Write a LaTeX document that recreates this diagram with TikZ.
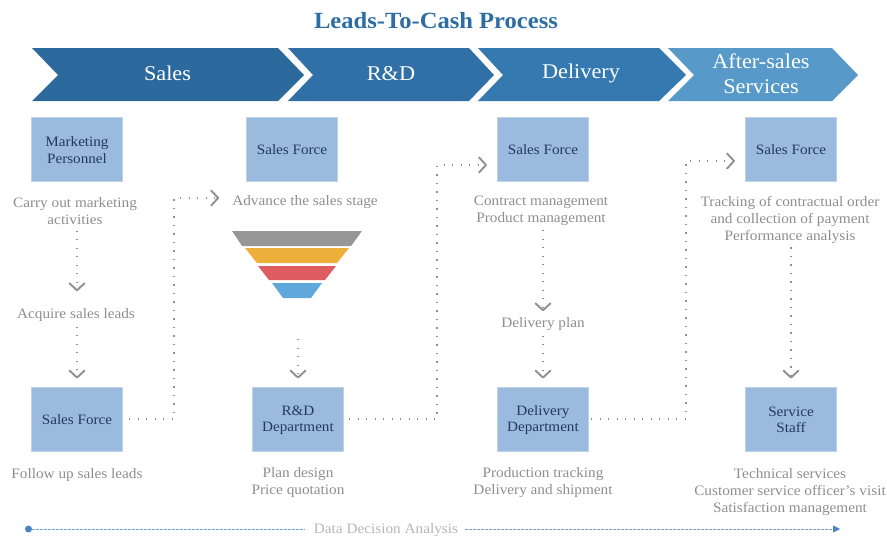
\documentclass[tikz,border=0pt]{standalone}
\usepackage{fontspec}
\setmainfont[FakeStretch=1.06]{Liberation Serif}
\usetikzlibrary{arrows.meta,calc}
\definecolor{boxfill}{HTML}{9ABBDD}
\definecolor{boxline}{HTML}{BDD3EA}
\definecolor{boxtext}{HTML}{26395F}
\definecolor{graytext}{HTML}{8E8E8E}
\definecolor{connc}{HTML}{8F8F8F}
\definecolor{titlec}{HTML}{2E6DA4}
\definecolor{dashc}{HTML}{6F9FD0}
\definecolor{dotc}{HTML}{4A86C5}
\definecolor{chA}{HTML}{2C6A9E}
\definecolor{chB}{HTML}{3070A6}
\definecolor{chC}{HTML}{347AB1}
\definecolor{chD}{HTML}{5799C8}
\definecolor{fnA}{HTML}{979797}
\definecolor{fnB}{HTML}{EDAE3A}
\definecolor{fnC}{HTML}{DC5C60}
\definecolor{fnD}{HTML}{5FA8DC}
\newcommand{\bs}{\rule[-1.4pt]{0pt}{13.4pt}}
\tikzset{
  chev/.style={fill=#1,draw=none},
  chevtext/.style={text=white,font=\fontsize{21}{25}\selectfont,align=center,inner sep=0pt},
  procbox/.style={draw=boxline,line width=1pt,fill=boxfill,minimum width=91pt,minimum height=64pt,inner sep=0pt,
    text=boxtext,font=\fontsize{14.3}{16.5}\selectfont,align=center},
  note/.style={text=graytext,font=\fontsize{14.4}{17}\selectfont,align=center,inner sep=0pt},
  conn/.style={draw=connc,line width=1.1pt,dash pattern=on 1.2pt off 7.3pt,
    -{Straight Barb[length=7pt,width=15pt,line width=1.9pt,round]}},
  funnel/.style={fill=#1,draw=none},
}
\begin{document}
\begin{tikzpicture}[x=1pt,y=-1pt]
\useasboundingbox (0,0) rectangle (887,538);
\node[text=titlec,font=\fontsize{23.2}{28}\selectfont\bfseries,inner sep=0pt] (title) at (436,20.5) {Leads-To-Cash Process};
% chevrons
\fill[chev=chA] (32,48) -- (278,48) -- (304,75) -- (278,101) -- (32,101) -- (58,75) -- cycle;
\fill[chev=chB] (288,48) -- (469,48) -- (494,75) -- (469,101) -- (288,101) -- (313,75) -- cycle;
\fill[chev=chC] (478,48) -- (659,48) -- (686,75) -- (659,101) -- (478,101) -- (503,75) -- cycle;
\fill[chev=chD] (668,48) -- (832,48) -- (858,75) -- (832,101) -- (668,101) -- (694,75) -- cycle;
\node[chevtext] (h1) at (167.5,73.5) {Sales};
\node[chevtext] (h2) at (391,73.5) {R\&D};
\node[chevtext] (h3) at (581,73.5) {Delivery};
\node[chevtext] (h4) at (761,74) {After-sales\\Services};
% boxes
\node[procbox] (s1) at (77,149.5) {\bs Marketing\\\bs Personnel};
\node[procbox] (s2) at (292,149.5) {\bs Sales Force};
\node[procbox] (s3) at (543,149.5) {\bs Sales Force};
\node[procbox] (s4) at (791,149.5) {\bs Sales Force};
\node[procbox] (b1) at (77,419) {\bs Sales Force};
\node[procbox] (b2) at (298,419) {\bs R\&D\\\bs Department};
\node[procbox] (b3) at (543,419) {\bs Delivery\\\bs Department};
\node[procbox] (b4) at (791,419) {\bs Service\\\bs Staff};
% notes
\node[note] (t1) at (75,211) {Carry out marketing\\activities};
\node[note] (t1b) at (76,315) {Acquire sales leads};
\node[note] (t2) at (305,202) {Advance the sales stage};
\node[note] (t3) at (541,211) {Contract management\\Product management};
\node[note] (t3b) at (543,324) {Delivery plan};
\node[note] (t4) at (790,219.5) {Tracking of contractual order\\and collection of payment\\Performance analysis};
\node[note] (n1) at (77,475) {Follow up sales leads};
\node[note] (n2) at (298,483) {Plan design\\Price quotation};
\node[note] (n3) at (543,483) {Production tracking\\Delivery and shipment};
\node[note] (n4) at (790,492) {Technical services\\Customer service officer's visit\\Satisfaction management};
% funnel
\fill[funnel=fnA] (232,231) -- (362,231) -- (351,246) -- (242,246) -- cycle;
\fill[funnel=fnB] (245,248) -- (349,248) -- (337,263) -- (257,263) -- cycle;
\fill[funnel=fnC] (258,266) -- (336,266) -- (325,280) -- (269,280) -- cycle;
\fill[funnel=fnD] (272,283) -- (322,283) -- (311,298) -- (283,298) -- cycle;
\coordinate (fn) at (298,339);
% vertical connectors
\draw[conn,shorten <=6pt,shorten >=17pt] (t1.south -| s1.south) -- (t1b.north -| s1.south);
\draw[conn,shorten <=5pt,shorten >=8pt] (t1b.south -| b1.north) -- (b1.north);
\draw[conn,shorten >=8pt] (fn) -- (b2.north);
\draw[conn,shorten <=4pt,shorten >=6pt] (t3.south -| s3.south) -- (t3b.north -| s3.south);
\draw[conn,shorten <=5pt,shorten >=8pt] (t3b.south -| b3.north) -- (b3.north);
\draw[conn,shorten <=4pt,shorten >=8pt] (t4.south -| b4.north) -- (b4.north);
% elbow connectors
\coordinate (c1) at (174,198);
\coordinate (c2) at (437,165);
\coordinate (c3) at (686,161);
\draw[conn,shorten <=6pt,shorten >=13pt] (b1.east) -| (c1) -- (c1 -| t2.west);
\draw[conn,shorten <=5pt,shorten >=10pt] (b2.east) -| (c2) -- (c2 -| s3.west);
\draw[conn,shorten <=2pt,shorten >=10pt] (b3.east) -| (c3) -- (c3 -| s4.west);
% bottom
\node[circle,fill=dotc,minimum size=7pt,inner sep=0pt] (d) at (28.5,529) {};
\node[text=graytext!65,font=\fontsize{14.4}{17}\selectfont,inner sep=0pt] (dl) at (386,530.5) {Data Decision Analysis};
\coordinate (de) at (840,529);
\draw[dashc,line width=0.8pt,dash pattern=on 2.5pt off 1.5pt,shorten >=9pt] (d) -- (d -| dl.west);
\draw[dashc,line width=0.8pt,dash pattern=on 2.5pt off 1.5pt,shorten <=7pt,-{Triangle[length=7pt,width=7pt,color=dotc]}] (d -| dl.east) -- (de);
\end{tikzpicture}
\end{document}
